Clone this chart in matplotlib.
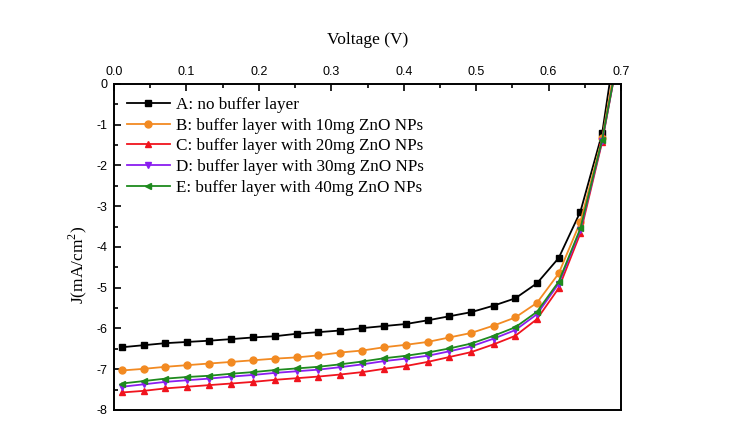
import matplotlib
matplotlib.use('Agg')
import matplotlib.pyplot as plt
from matplotlib.ticker import MultipleLocator

plt.rcParams['axes.unicode_minus'] = False
plt.rcParams['mathtext.fontset'] = 'custom'
plt.rcParams['mathtext.rm'] = 'Liberation Serif'

# voltage at each measured point (V)
voltage = [0.011, 0.041, 0.071, 0.101, 0.131, 0.162, 0.192, 0.222, 0.252,
           0.282, 0.312, 0.343, 0.373, 0.403, 0.433, 0.463, 0.493, 0.524,
           0.554, 0.584, 0.614, 0.644, 0.674, 0.695]

# current density (mA/cm2)
j_a = [-6.46, -6.41, -6.36, -6.33, -6.30, -6.26, -6.22, -6.19, -6.13, -6.09,
       -6.05, -5.99, -5.94, -5.89, -5.80, -5.70, -5.60, -5.44, -5.26, -4.89,
       -4.27, -3.13, -1.21, 1.3]
j_b = [-7.03, -6.99, -6.94, -6.90, -6.86, -6.82, -6.78, -6.74, -6.71, -6.66,
       -6.59, -6.54, -6.46, -6.40, -6.33, -6.22, -6.11, -5.93, -5.73, -5.37,
       -4.65, -3.38, -1.33, 0.8]
j_c = [-7.57, -7.53, -7.47, -7.43, -7.39, -7.35, -7.31, -7.26, -7.22, -7.18,
       -7.13, -7.07, -6.99, -6.92, -6.82, -6.70, -6.58, -6.39, -6.18, -5.77,
       -5.01, -3.66, -1.42, 0.6]
j_d = [-7.43, -7.37, -7.31, -7.27, -7.23, -7.18, -7.14, -7.09, -7.05, -7.01,
       -6.95, -6.88, -6.80, -6.74, -6.67, -6.56, -6.44, -6.25, -6.04, -5.65,
       -4.90, -3.58, -1.39, 0.6]
j_e = [-7.35, -7.29, -7.23, -7.19, -7.16, -7.11, -7.07, -7.02, -6.98, -6.94,
       -6.88, -6.81, -6.73, -6.67, -6.59, -6.49, -6.37, -6.18, -5.97, -5.59,
       -4.85, -3.54, -1.37, 0.6]

labels = ['A: no buffer layer',
          'B: buffer layer with 10mg ZnO NPs',
          'C: buffer layer with 20mg ZnO NPs',
          'D: buffer layer with 30mg ZnO NPs',
          'E: buffer layer with 40mg ZnO NPs']
colors = ['black', '#F28A22', '#F0141E', '#8A1EF0', '#1E8A1E']
markers = ['s', 'o', '^', 'v', '<']

def main():
  fig = plt.figure(figsize=(7.53, 4.42), dpi=100)
  ax = fig.add_axes([0.1514, 0.0724, 0.6733, 0.7376])

  for j, lab, c, m in zip([j_a, j_b, j_c, j_d, j_e], labels, colors, markers):
    ax.plot(voltage, j, color=c, marker=m, markersize=5, linewidth=1.3,
            label=lab)

  ax.set_xlim(0, 0.7)
  ax.set_ylim(-8, 0)
  ax.xaxis.tick_top()
  ax.xaxis.set_label_position('top')
  ax.xaxis.set_major_locator(MultipleLocator(0.1))
  ax.xaxis.set_minor_locator(MultipleLocator(0.05))
  ax.yaxis.set_major_locator(MultipleLocator(1))
  ax.yaxis.set_minor_locator(MultipleLocator(0.5))
  ax.tick_params(which='both', direction='in', width=1.2, top=True,
                 bottom=False, left=True, right=False, labelsize=9, pad=4.5)
  ax.tick_params(which='major', length=5)
  ax.tick_params(which='minor', length=3)
  for lbl in ax.get_xticklabels() + ax.get_yticklabels():
    lbl.set_family('Liberation Sans')
  ax.xaxis.set_major_formatter(plt.FuncFormatter(lambda v, p: '%.1f' % v))
  ax.yaxis.set_major_formatter(plt.FuncFormatter(lambda v, p: '%d' % round(v)))
  for s in ax.spines.values():
    s.set_linewidth(1.4)

  ax.set_xlabel('Voltage (V)', family='Liberation Serif', fontsize=12.5,
                labelpad=16)
  ax.set_ylabel(r'J(mA/cm$^2$)', family='Liberation Serif', fontsize=12.5)
  ax.yaxis.set_label_coords(-0.05, 0.445)

  ax.legend(loc='upper left', frameon=False, handlelength=2.5,
            handletextpad=0.4, labelspacing=0.28,
            prop={'family': 'Liberation Serif', 'size': 12.3},
            borderaxespad=0.35, bbox_to_anchor=(0.0, 1.0))

  plt.savefig('out.png', dpi=100)

if __name__ == "__main__":
  main()
